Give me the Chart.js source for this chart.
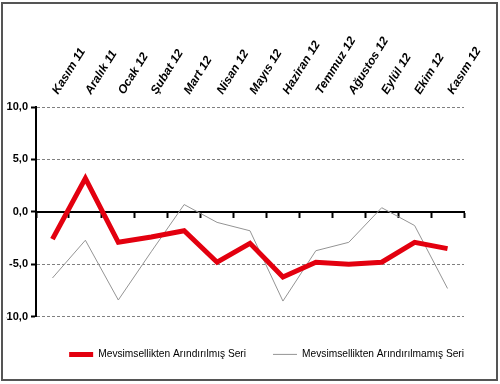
<!DOCTYPE html>
<html>
<head>
<meta charset="utf-8">
<script src="https://cdn.jsdelivr.net/npm/chart.js@4.4.0/dist/chart.umd.min.js"></script>
<style>
  html, body { margin: 0; padding: 0; background: #ffffff; }
  #wrap { width: 500px; height: 384px; position: relative; }
</style>
</head>
<body>
<div id="wrap"><canvas id="c" width="500" height="384"></canvas></div>
<script>
const categories = ['Kasım 11', 'Aralık 11', 'Ocak 12', 'Şubat 12', 'Mart 12', 'Nisan 12', 'Mayıs 12',
  'Haziran 12', 'Temmuz 12', 'Ağustos 12', 'Eylül 12', 'Ekim 12', 'Kasım 12'];
const seasonallyAdjusted = [-2.6, 3.2, -2.9, -2.4, -1.8, -4.8, -3.0, -6.2, -4.8, -5.0, -4.8, -2.9, -3.5];
const notSeasonallyAdjusted = [-6.3, -2.7, -8.4, -3.8, 0.7, -1.0, -1.8, -8.5, -3.7, -2.9, 0.4, -1.3, -7.3];
const seriesNames = ['Mevsimsellikten Arındırılmış Seri', 'Mevsimsellikten Arındırılmamış Seri'];
const yMin = -10, yMax = 10, yStep = 5;

const FONT = "'Liberation Sans', Arial, sans-serif";

const framePlugin = {
  id: 'frame',
  afterDraw(chart) {
    const ctx = chart.ctx;
    ctx.save();
    ctx.strokeStyle = '#555555';
    ctx.lineWidth = 2;
    ctx.strokeRect(2, 3, 495, 377);
    ctx.restore();
  }
};

new Chart(document.getElementById('c'), {
  type: 'line',
  data: {
    labels: categories,
    datasets: [
      {
        label: seriesNames[0],
        data: seasonallyAdjusted,
        borderColor: '#e3000f',
        backgroundColor: '#e3000f',
        borderWidth: 5,
        pointRadius: 0,
        tension: 0,
        xAxisID: 'x',
        yAxisID: 'y'
      },
      {
        label: seriesNames[1],
        data: notSeasonallyAdjusted,
        borderColor: '#949494',
        backgroundColor: '#949494',
        borderWidth: 1,
        pointRadius: 0,
        tension: 0,
        xAxisID: 'x',
        yAxisID: 'y'
      }
    ]
  },
  options: {
    responsive: false,
    animation: false,
    devicePixelRatio: 1,
    layout: { padding: { left: 6, right: 9, top: 0, bottom: 14.5 } },
    plugins: {
      tooltip: { enabled: false },
      legend: {
        position: 'bottom',
        align: 'end',
        title: { display: true, text: '', padding: 0, font: { size: 5, lineHeight: 1.1 } },
        labels: {
          usePointStyle: true,
          pointStyle: 'line',
          pointStyleWidth: 24,
          padding: 27,
          color: '#000000',
          font: { family: FONT, size: 10.2 }
        }
      }
    },
    scales: {
      x: {
        type: 'category',
        position: 'top',
        offset: true,
        grid: { display: false, drawTicks: false },
        border: { display: false },
        ticks: {
          autoSkip: false,
          minRotation: 58,
          maxRotation: 58,
          padding: 10,
          labelOffset: 15,
          color: '#000000',
          font: { family: FONT, size: 12, weight: 'bold', style: 'italic' }
        },
        afterFit(scale) { scale.height = 107; }
      },
      x0: {
        type: 'category',
        axis: 'x',
        position: { y: 0 },
        offset: true,
        grid: {
          offset: true,
          drawOnChartArea: false,
          drawTicks: true,
          tickLength: 5,
          tickWidth: 2,
          tickColor: '#000000',
          color: '#000000'
        },
        border: { display: true, color: '#000000', width: 2 },
        ticks: { display: false }
      },
      y: {
        type: 'linear',
        position: 'left',
        min: yMin,
        max: yMax,
        ticks: {
          stepSize: yStep,
          padding: 3,
          color: '#000000',
          font: { family: FONT, size: 11, weight: 'bold' },
          callback: (v) => v.toFixed(1).replace('.', ',')
        },
        grid: {
          color: '#808080',
          lineWidth: 1,
          tickLength: 5,
          tickWidth: 2,
          tickColor: '#000000',
          tickBorderDash: []
        },
        border: { display: true, color: '#000000', width: 2, dash: [3, 2] },
        afterFit(scale) { scale.width = 30; }
      },
      yR: {
        type: 'linear',
        position: 'right',
        min: yMin,
        max: yMax,
        grid: { display: false, drawTicks: false },
        border: { display: false },
        ticks: { display: false },
        afterFit(scale) { scale.width = 27; }
      }
    }
  },
  plugins: [framePlugin]
});
</script>
</body>
</html>
